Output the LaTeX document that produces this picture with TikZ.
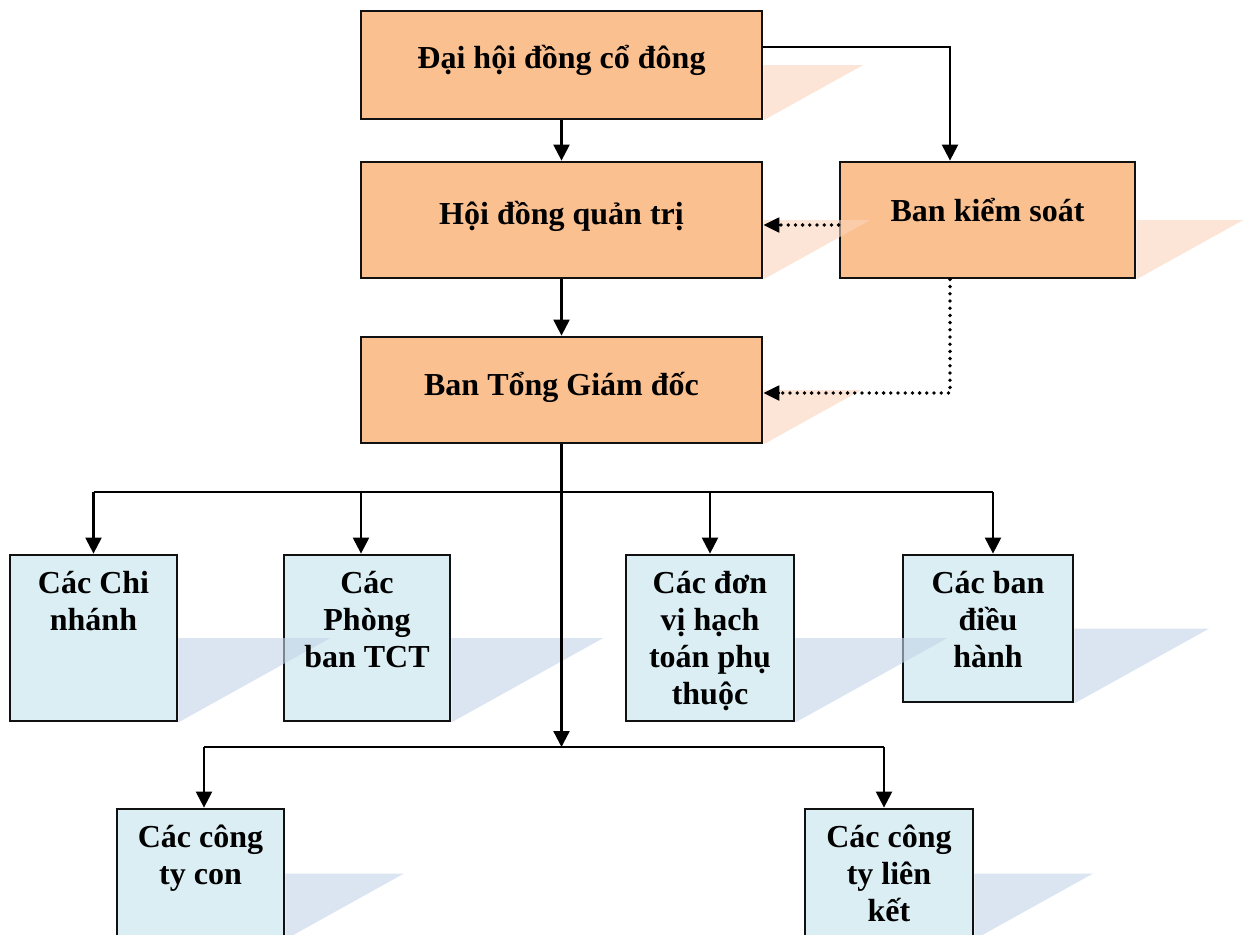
\documentclass[tikz,border=0pt]{standalone}
\usepackage{fontspec}
\setmainfont{Liberation Serif}
\usetikzlibrary{arrows.meta,calc}
\definecolor{boxorange}{HTML}{FAC090}
\definecolor{boxblue}{HTML}{DBEEF4}
\definecolor{shadeorange}{HTML}{FAD5BB}
\definecolor{shadeblue}{HTML}{C3D4E8}
\definecolor{edge}{HTML}{111111}
\tikzset{
  unit/.style={draw=edge, line width=2.8pt, inner sep=0pt},
  topunit/.style={unit, fill=boxorange},
  subunit/.style={unit, fill=boxblue},
  label/.style={font=\fontsize{32}{37}\selectfont\bfseries, align=center, inner sep=0pt},
  link/.style={line width=2.3pt, draw=black},
  tip/.style={-{Triangle[length=16pt,width=16pt]}},
  arr/.style={link, tip},
  dotline/.style={line width=3.8pt, line cap=round, dash pattern=on 0pt off 7.2pt},
  dottip/.style={line width=2.3pt, -{Triangle[length=16pt,width=15pt]}},
}
% perspective shadow: triangle leaning right from the lower half of a box
\newcommand{\castshadow}[2]{%
  \path let \p1=(#1.south east), \p2=(#1.north east) in
    [fill=#2, opacity=0.6]
    (\x1,{(\y1+\y2)/2}) -- ({\x1+0.9*(\y2-\y1)},{(\y1+\y2)/2}) -- (\x1,\y1) -- cycle;}
\begin{document}
\begin{tikzpicture}[x=1pt,y=-1pt]
\useasboundingbox (0,0) rectangle (1249,934);
\fill[white] (0,0) rectangle (1249,934);
\clip (0,0) rectangle (1249,934);

% governing bodies
\node[topunit, minimum width=401pt, minimum height=108pt] (dh)  at (561.5,65)  {};
\node[topunit, minimum width=401pt, minimum height=116pt] (hd)  at (561.5,220) {};
\node[topunit, minimum width=295pt, minimum height=116pt] (bks) at (987.5,220) {};
\node[topunit, minimum width=401pt, minimum height=106pt] (tgd) at (561.5,390) {};

% operating units
\node[subunit, minimum width=167pt, minimum height=166pt] (cn)  at (93.5,638)  {};
\node[subunit, minimum width=166pt, minimum height=166pt] (pb)  at (367,638)   {};
\node[subunit, minimum width=168pt, minimum height=166pt] (dv)  at (710,638)   {};
\node[subunit, minimum width=170pt, minimum height=147pt] (bdh) at (988,628.5) {};
\node[subunit, minimum width=167pt, minimum height=129pt] (ctc) at (200.5,873.5) {};
\node[subunit, minimum width=168pt, minimum height=129pt] (ctl) at (889,873.5)   {};

% shadows
\castshadow{dh}{shadeorange}
\castshadow{hd}{shadeorange}
\castshadow{bks}{shadeorange}
\castshadow{tgd}{shadeorange}
\castshadow{cn}{shadeblue}
\castshadow{pb}{shadeblue}
\castshadow{dv}{shadeblue}
\castshadow{bdh}{shadeblue}
\castshadow{ctc}{shadeblue}
\castshadow{ctl}{shadeblue}

% titles
\node[label] at ([yshift=5pt]dh.center)  {Đại hội đồng cổ đông};
\node[label] at ([yshift=4pt]hd.center)  {Hội đồng quản trị};
\node[label] at ([yshift=10pt]bks.center) {Ban kiểm soát};
\node[label] at ([yshift=3pt]tgd.center) {Ban Tổng Giám đốc};
\node[label, anchor=north] at ([yshift=-17pt]cn.north)  {Các Chi\\nhánh};
\node[label, anchor=north] at ([yshift=-17pt]pb.north)  {Các\\Phòng\\ban TCT};
\node[label, anchor=north] at ([yshift=-17pt]dv.north)  {Các đơn\\vị hạch\\toán phụ\\thuộc};
\node[label, anchor=north] at ([yshift=-17pt]bdh.north) {Các ban\\điều\\hành};
\node[label, anchor=north] at ([yshift=-17pt]ctc.north) {Các công\\ty con};
\node[label, anchor=north] at ([yshift=-17pt]ctl.north) {Các công\\ty liên\\kết};

% reporting lines
\draw[arr] (dh.south) -- (hd.north);
\draw[arr] ([yshift=18pt]dh.east) -| ([xshift=-37.5pt]bks.north);
\draw[arr] (hd.south) -- (tgd.north);

% supervision lines (dotted, solid heads)
\draw[dotline] ([yshift=-5pt]bks.west) -- ([xshift=16pt,yshift=-5pt]hd.east);
\draw[dottip] ([xshift=16pt,yshift=-5pt]hd.east) -- ([yshift=-5pt]hd.east);
\draw[dotline] ([xshift=-37.5pt]bks.south) |- ([xshift=16pt,yshift=-3pt]tgd.east);
\draw[dottip] ([xshift=16pt,yshift=-3pt]tgd.east) -- ([yshift=-3pt]tgd.east);

% distribution to units
\coordinate (busA) at (561.5,492);
\coordinate (busB) at (561.5,747);
\draw[link] (cn.north |- busA) -- ([xshift=5pt]bdh.north |- busA);
\draw[arr] (tgd.south) -- (busB);
\draw[arr] (cn.north |- busA) -- (cn.north);
\draw[arr] ([xshift=-6pt]pb.north |- busA) -- ([xshift=-6pt]pb.north);
\draw[arr] (dv.north |- busA) -- (dv.north);
\draw[arr] ([xshift=5pt]bdh.north |- busA) -- ([xshift=5pt]bdh.north);
\draw[link] ([xshift=3.5pt]ctc.north |- busB) -- ([xshift=-5pt]ctl.north |- busB);
\draw[arr] ([xshift=3.5pt]ctc.north |- busB) -- ([xshift=3.5pt]ctc.north);
\draw[arr] ([xshift=-5pt]ctl.north |- busB) -- ([xshift=-5pt]ctl.north);
\end{tikzpicture}
\end{document}
